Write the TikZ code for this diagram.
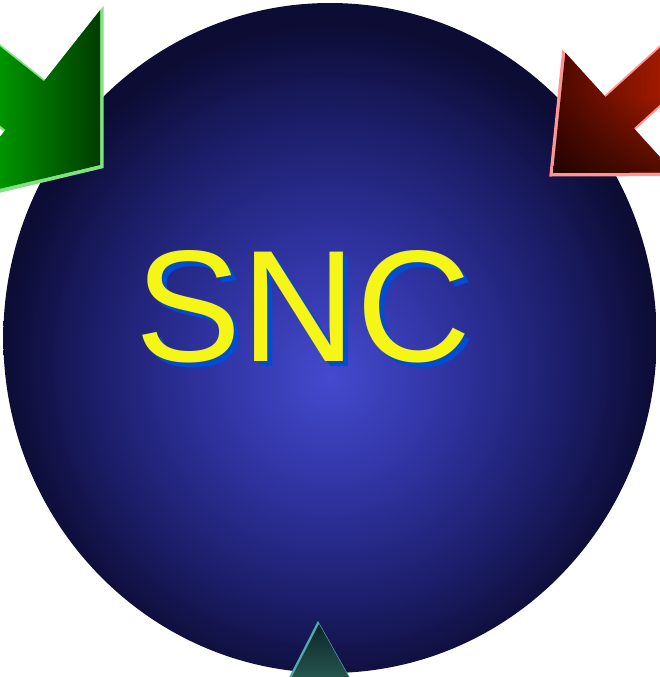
\documentclass[tikz,border=0pt]{standalone}
\usepackage{fontspec}
\setmainfont{Liberation Sans}
\usetikzlibrary{fadings}
\definecolor{ballC}{RGB}{68,74,206}
\definecolor{ballM}{RGB}{48,52,162}
\definecolor{ballO}{RGB}{28,30,106}
\definecolor{ballE}{RGB}{12,12,52}
\definecolor{gBright}{RGB}{0,184,0}
\definecolor{gDark}{RGB}{0,24,0}
\definecolor{gLight}{RGB}{128,226,128}
\definecolor{rBright}{RGB}{200,34,0}
\definecolor{rDark}{RGB}{34,0,0}
\definecolor{rLight}{RGB}{255,150,150}
\definecolor{tTop}{RGB}{12,38,38}
\definecolor{tBot}{RGB}{50,108,100}
\definecolor{tLight}{RGB}{84,170,170}
\definecolor{sncYellow}{RGB}{245,245,24}
\definecolor{sncBlue}{RGB}{0,76,210}
\pgfdeclareradialshading{ball}{\pgfpoint{0bp}{-3bp}}{color(0bp)=(ballC); color(9bp)=(ballM); color(18bp)=(ballO); color(25bp)=(ballE); color(50bp)=(ballE)}
\newcommand{\greenarrow}{(100,165) -- (100,10.2) -- (43.9,81.2) -- (-112.9,-42.8) -- (-151.3,5.8) -- (5.5,129.8) -- (-50.6,200.8) -- cycle}
\newcommand{\redarrow}{(553,173) -- (565.3,52.6) -- (605.6,97.0) -- (753.8,-37.2) -- (782,-6) -- (633.8,128.2) -- (674.1,172.6) -- cycle}
\newcommand{\tealarrow}{(319,624) -- (278,704) -- (364,704) -- cycle}
\tikzset{
  snctext/.style={font=\fontsize{159}{159}\selectfont, anchor=base, inner sep=0pt},
  rim/.style={line width=4pt, line join=miter}
}
\begin{document}
\begin{tikzpicture}[x=1pt,y=-1pt]
\useasboundingbox (0,0) rectangle (660,677);
\clip (0,0) rectangle (660,677);
% disk
\shade[shading=ball] (330,338) ellipse [x radius=326.7, y radius=335];
% text
\node[snctext, text=sncBlue] (sncshadow) at (308.5,366) {SNC};
\node[snctext, text=sncYellow] (snc) at (303.5,361) {SNC};
% green arrow
\draw[rim, draw=gLight, shift={(1.5,1.5)}] \greenarrow;
\begin{scope}
  \clip \greenarrow;
  \shade[left color=gBright, right color=gDark] (-40,-20) rectangle (140,220);
\end{scope}
% red arrow
\draw[rim, draw=rLight, shift={(-1.5,1.5)}] \redarrow;
\begin{scope}
  \clip \redarrow;
  \shade[left color=rDark, right color=rBright] (505,0) rectangle (710,200);
  \fill[black, opacity=0.55, path fading=north] (540,95) rectangle (700,180);
\end{scope}
% teal arrow
\draw[rim, line width=3pt, draw=tLight, shift={(-1,0)}] \tealarrow;
\shade[top color=tTop, bottom color=tBot] \tealarrow;
\end{tikzpicture}
\end{document}
